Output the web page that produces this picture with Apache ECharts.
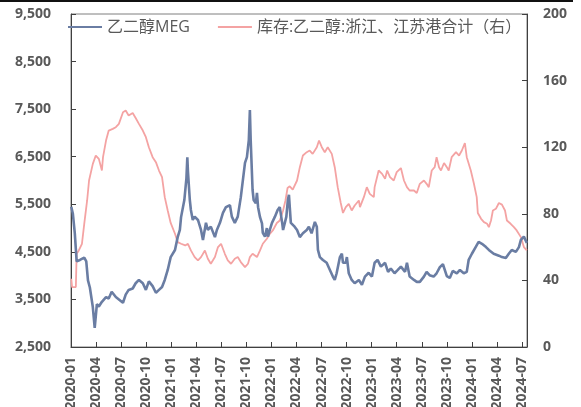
<!DOCTYPE html>
<html><head><meta charset="utf-8">
<script src="https://cdn.jsdelivr.net/npm/echarts@6/dist/echarts.min.js"></script>
<style>html,body{margin:0;padding:0;background:#fff}#c{width:581px;height:407px}</style>
</head><body><div id="c"></div>
<script>
const megName = '乙二醇MEG';
const stockName = '库存:乙二醇:浙江、江苏港合计（右）';

const megDates = ['2020-01-02','2020-01-08','2020-01-15','2020-01-22','2020-02-03','2020-02-18','2020-02-25','2020-03-02','2020-03-09','2020-03-20','2020-03-27','2020-04-04','2020-04-11','2020-04-22','2020-05-07','2020-05-17','2020-05-28','2020-06-12','2020-06-23','2020-07-08','2020-07-18','2020-07-29','2020-08-13','2020-08-24','2020-09-05','2020-09-19','2020-09-30','2020-10-11','2020-10-25','2020-11-06','2020-11-17','2020-11-28','2020-12-08','2020-12-19','2020-12-30','2021-01-15','2021-01-25','2021-02-02','2021-02-06','2021-02-17','2021-02-24','2021-02-27','2021-03-01','2021-03-08','2021-03-12','2021-03-19','2021-03-26','2021-04-07','2021-04-18','2021-04-25','2021-05-06','2021-05-13','2021-05-24','2021-06-08','2021-06-15','2021-06-26','2021-07-07','2021-07-18','2021-08-02','2021-08-09','2021-08-20','2021-08-31','2021-09-11','2021-09-26','2021-10-03','2021-10-10','2021-10-14','2021-10-17','2021-10-24','2021-10-28','2021-11-05','2021-11-09','2021-11-13','2021-11-20','2021-11-27','2021-11-30','2021-12-08','2021-12-15','2021-12-19','2021-12-26','2022-01-03','2022-01-14','2022-01-24','2022-02-01','2022-02-09','2022-02-12','2022-02-23','2022-02-28','2022-03-04','2022-03-11','2022-03-18','2022-03-25','2022-04-03','2022-04-13','2022-04-24','2022-05-08','2022-05-16','2022-05-26','2022-06-07','2022-06-14','2022-06-18','2022-06-25','2022-07-06','2022-07-20','2022-08-01','2022-08-12','2022-08-19','2022-08-26','2022-09-07','2022-09-14','2022-09-18','2022-09-28','2022-10-02','2022-10-09','2022-10-20','2022-10-31','2022-11-15','2022-11-26','2022-12-07','2022-12-21','2023-01-02','2023-01-12','2023-01-23','2023-02-04','2023-02-18','2023-02-28','2023-03-10','2023-03-24','2023-04-05','2023-04-16','2023-05-01','2023-05-08','2023-05-18','2023-06-03','2023-06-13','2023-06-24','2023-07-09','2023-07-19','2023-07-30','2023-08-14','2023-08-25','2023-09-06','2023-09-17','2023-10-01','2023-10-12','2023-10-23','2023-11-07','2023-11-18','2023-12-02','2023-12-13','2023-12-20','2024-01-01','2024-01-15','2024-01-26','2024-02-07','2024-02-21','2024-03-02','2024-03-20','2024-04-08','2024-04-19','2024-05-03','2024-05-14','2024-05-25','2024-06-09','2024-06-20','2024-06-27','2024-07-08','2024-07-19'];
const megValues = [5450,5300,4900,4300,4330,4380,4300,3900,3750,3340,2900,3400,3350,3450,3550,3520,3660,3550,3500,3430,3600,3700,3730,3840,3910,3840,3700,3880,3780,3640,3700,3760,3910,4120,4390,4540,4810,4960,5230,5590,6050,6490,6200,5590,5380,5170,5240,5170,4960,4750,5110,4960,5030,4810,4960,5110,5320,5440,5480,5240,5110,5240,5650,6370,6490,6850,7480,6850,5800,5590,5520,5740,5440,5230,5100,4900,4820,5000,4820,4960,5110,5240,5380,5440,5110,4960,5240,5590,5700,5110,5110,5030,4960,4810,4890,4960,5030,4890,5130,5030,4540,4390,4330,4270,4120,3980,3910,4050,4390,4460,4270,4270,4390,4050,3910,3840,3910,3810,3980,4060,3980,4270,4330,4190,4270,4080,4150,4050,4120,4190,4080,4270,3980,3910,3870,3870,3980,4080,4010,3980,4050,4180,4240,3990,3950,4100,4050,4120,4050,4080,4330,4460,4600,4710,4670,4600,4540,4460,4420,4390,4370,4460,4540,4500,4600,4750,4820,4690];

const stockDates = ['2020-01-02','2020-01-05','2020-01-19','2020-01-22','2020-01-30','2020-02-10','2020-02-18','2020-02-28','2020-03-06','2020-03-20','2020-03-31','2020-04-11','2020-04-22','2020-04-26','2020-05-07','2020-05-17','2020-06-01','2020-06-12','2020-06-23','2020-07-08','2020-07-18','2020-07-29','2020-08-13','2020-08-24','2020-09-05','2020-09-19','2020-09-30','2020-10-11','2020-10-25','2020-11-06','2020-11-17','2020-11-28','2020-12-08','2020-12-19','2020-12-30','2021-01-15','2021-01-25','2021-02-06','2021-02-20','2021-03-01','2021-03-12','2021-03-26','2021-04-07','2021-04-18','2021-05-02','2021-05-13','2021-05-24','2021-06-08','2021-06-19','2021-06-30','2021-07-14','2021-07-25','2021-08-06','2021-08-20','2021-08-31','2021-09-11','2021-09-26','2021-10-07','2021-10-14','2021-10-24','2021-11-09','2021-11-20','2021-11-30','2021-12-15','2021-12-26','2022-01-06','2022-01-21','2022-02-01','2022-02-12','2022-02-20','2022-02-27','2022-03-07','2022-03-18','2022-04-03','2022-04-13','2022-04-24','2022-05-08','2022-05-19','2022-05-30','2022-06-14','2022-06-22','2022-07-02','2022-07-13','2022-07-24','2022-08-08','2022-08-19','2022-08-30','2022-09-10','2022-09-18','2022-09-28','2022-10-09','2022-10-20','2022-10-31','2022-11-15','2022-11-19','2022-12-03','2022-12-14','2022-12-25','2023-01-09','2023-01-12','2023-01-27','2023-02-08','2023-02-18','2023-02-25','2023-03-07','2023-03-21','2023-04-01','2023-04-16','2023-04-27','2023-05-08','2023-05-18','2023-06-03','2023-06-13','2023-06-24','2023-07-09','2023-07-19','2023-07-27','2023-08-07','2023-08-18','2023-08-25','2023-09-03','2023-09-10','2023-09-21','2023-10-01','2023-10-08','2023-10-19','2023-11-04','2023-11-15','2023-11-25','2023-12-06','2023-12-13','2023-12-28','2024-01-08','2024-01-19','2024-01-23','2024-02-04','2024-02-14','2024-02-25','2024-03-02','2024-03-10','2024-03-17','2024-03-28','2024-04-08','2024-04-19','2024-04-30','2024-05-07','2024-05-21','2024-06-02','2024-06-12','2024-06-27','2024-07-08','2024-07-19'];
const stockValues = [41,36,36,56,58,62,74,88,100,110,115,113,106,114,124,130,131,132,134,141,142,139,140.5,137.5,134,130,126,120,114,111,106,102,90,82,74.5,68,63,62,61,62,58,54,52,54,58,53,50,54,60,62,56,52,50,53,54,51,48,50,54,56,54,58,62,65,68,70,74.5,76,82,88,95.5,96.5,94.5,100,108,115,117,118,116,120,124,120,117,120,116,108,96,86.5,80.5,84,86,82,85,88,84,90,96,92,90,96,106,104,101,106,102,100,105,107.5,100,96,94,94,92.5,98,100,98,96,106,108,114,108,106,110.5,108,106,114,117,115,118,122.5,114,106,98.5,90,80.5,77,75,74,72,76,82,83,86.5,85.5,82,76,74,72,70,66,60,58];

const xStartYear = 2020;
const xMaxMonths = 54.6;

function monthIndex(s) {
  const p = s.split('-').map(Number);
  const dim = new Date(p[0], p[1], 0).getDate();
  return (p[0] - xStartYear) * 12 + (p[1] - 1) + (p[2] - 1) / dim;
}
function monthLabel(v) {
  const y = xStartYear + Math.floor(v / 12);
  const m = Math.round(v % 12) + 1;
  return y + '-' + (m < 10 ? '0' + m : m);
}

const FONT = '"Open Sans", "Noto Sans CJK SC", sans-serif';
const labelStyle = { color: '#595959', fontWeight: 'bold', fontSize: 14, fontFamily: FONT };
const blue = '#6A7DA3';
const pink = '#F4A3A3';

const chart = echarts.init(document.getElementById('c'), null, { renderer: 'canvas' });
chart.setOption({
  animation: false,
  backgroundColor: '#fff',
  graphic: [{ type: 'rect', left: 0, top: 0, shape: { width: 573, height: 2 }, style: { fill: '#111' } }],
  grid: { left: 71, right: 54, top: 14, bottom: 60, show: true, borderColor: '#7f7f7f', borderWidth: 1, outerBoundsMode: 'none', containLabel: false },
  legend: {
    left: 63, top: 14, itemWidth: 34, itemHeight: 2, itemGap: 28, icon: 'rect',
    textStyle: { fontSize: 16, color: '#595959', fontFamily: FONT },
    data: [megName, stockName]
  },
  xAxis: {
    type: 'value', min: 0, max: xMaxMonths, interval: 3,
    axisLine: { lineStyle: { color: '#404040' } },
    axisTick: { inside: true, length: 5, lineStyle: { color: '#404040' } },
    splitLine: { show: false },
    axisLabel: Object.assign({ rotate: 90, margin: 10, showMaxLabel: false, formatter: monthLabel }, labelStyle)
  },
  yAxis: [{
    type: 'value', min: 2500, max: 9500, interval: 1000,
    axisLine: { show: true, lineStyle: { color: '#404040' } },
    axisTick: { show: true, inside: true, length: 5, lineStyle: { color: '#404040' } },
    splitLine: { show: false },
    axisLabel: Object.assign({ margin: 20, formatter: v => v.toLocaleString('en-US') }, labelStyle)
  }, {
    type: 'value', min: 0, max: 200, interval: 40, position: 'right',
    axisLine: { show: true, lineStyle: { color: '#404040' } },
    axisTick: { show: true, inside: true, length: 5, lineStyle: { color: '#404040' } },
    splitLine: { show: false },
    axisLabel: Object.assign({ margin: 16 }, labelStyle)
  }],
  series: [{
    name: megName, type: 'line', yAxisIndex: 0, symbol: 'none', z: 3,
    lineStyle: { color: blue, width: 2.6 }, itemStyle: { color: blue },
    data: megDates.map((d, i) => [monthIndex(d), megValues[i]])
  }, {
    name: stockName, type: 'line', yAxisIndex: 1, symbol: 'none', z: 2,
    lineStyle: { color: pink, width: 1.8 }, itemStyle: { color: pink },
    data: stockDates.map((d, i) => [monthIndex(d), stockValues[i]])
  }]
});
</script></body></html>
